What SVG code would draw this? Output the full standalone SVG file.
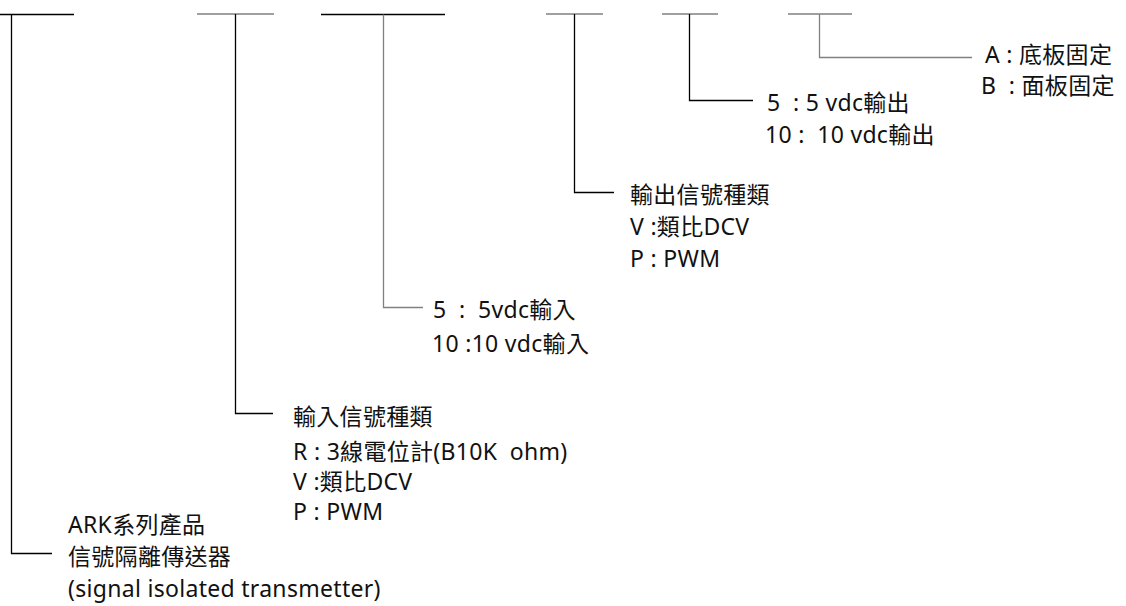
<svg xmlns="http://www.w3.org/2000/svg" width="1126" height="606" viewBox="0 0 1126 606">
<style>
text{font-family:"Noto Sans","Noto Sans CJK TC",sans-serif;font-size:23px;letter-spacing:0.3px;fill:#111;white-space:pre}
.k{stroke:#000;stroke-width:1.3;fill:none}
.g{stroke:#808080;stroke-width:1.3;fill:none}
</style>
<rect width="1126" height="606" fill="#fff"/>
<g id="connectors">
<path class="k" d="M0 14.5H74M11.5 14.5V553.5H52"/>
<path class="g" d="M197 14H274"/>
<path class="k" d="M235.5 14V413.5H273"/>
<path class="k" d="M321 14.5H445"/>
<path class="g" d="M383.5 14.5V307.5H423"/>
<path class="g" d="M546 14H603"/>
<path class="k" d="M574.5 14V192.5H614"/>
<path class="g" d="M662 14H718"/>
<path class="k" d="M689.5 14V100.5H753"/>
<path class="g" d="M788 14H852M819.5 14V57.5H972"/>
</g>
<g id="node-mount">
<text x="985" y="63">A : 底板固定</text>
<text x="981" y="94">B  : 面板固定</text>
</g>
<g id="node-output-voltage">
<text x="767" y="111">5  : 5 vdc輸出</text>
<text x="765" y="143">10 :  10 vdc輸出</text>
</g>
<g id="node-output-signal">
<text x="630" y="203">輸出信號種類</text>
<text x="630" y="235">V :類比DCV</text>
<text x="630" y="267">P : PWM</text>
</g>
<g id="node-input-voltage">
<text x="433" y="318">5  :  5vdc輸入</text>
<text x="432" y="352">10 :10 vdc輸入</text>
</g>
<g id="node-input-signal">
<text x="293" y="425">輸入信號種類</text>
<text x="293" y="460">R : 3線電位計(B10K  ohm)</text>
<text x="293" y="490">V :類比DCV</text>
<text x="293" y="520">P : PWM</text>
</g>
<g id="node-series">
<text x="68" y="533">ARK系列產品</text>
<text x="68" y="565">信號隔離傳送器</text>
<text x="68" y="597">(signal isolated transmetter)</text>
</g>
</svg>
